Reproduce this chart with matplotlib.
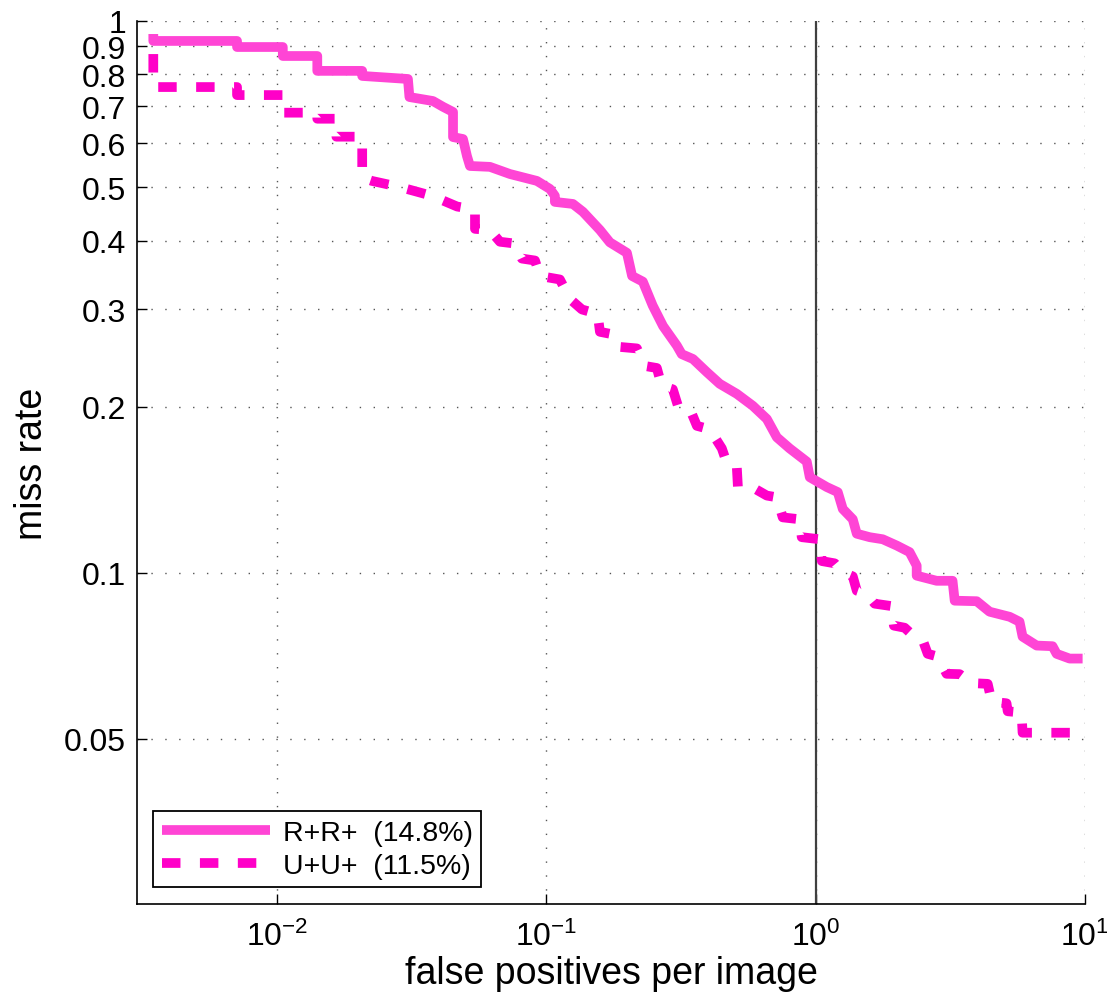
import matplotlib
matplotlib.use("Agg")
import matplotlib.pyplot as plt
from matplotlib.ticker import FixedLocator, FixedFormatter, NullLocator

plt.rcParams['font.family'] = ['Liberation Sans', 'DejaVu Sans']
plt.rcParams['mathtext.fontset'] = 'custom'
plt.rcParams['mathtext.rm'] = 'Liberation Sans'
plt.rcParams['mathtext.it'] = 'Liberation Sans'
plt.rcParams['mathtext.bf'] = 'Liberation Sans'

# ---- data ----
rr_fppi = [0.00347, 0.00347, 0.0071, 0.0071, 0.0105, 0.0105, 0.0141, 0.0141, 0.0207, 0.0207,
           0.0306, 0.0310, 0.0379, 0.0413, 0.0450, 0.0450, 0.0490, 0.0507, 0.0520, 0.0617,
           0.0732, 0.0922, 0.1031, 0.1075, 0.1075, 0.1254, 0.1366, 0.158, 0.172, 0.199,
           0.204, 0.208, 0.228, 0.248, 0.271, 0.305, 0.318, 0.350, 0.394, 0.440,
           0.509, 0.584, 0.658, 0.717, 0.80, 0.926, 0.950, 1.099, 1.207, 1.26,
           1.372, 1.42, 1.586, 1.773, 2.00, 2.23, 2.37, 2.37, 2.81, 3.22,
           3.28, 3.96, 4.42, 5.25, 5.71, 5.86, 6.61, 7.57, 7.84, 8.76, 9.79]
rr_miss = [0.947, 0.920, 0.920, 0.897, 0.897, 0.864, 0.864, 0.812, 0.812, 0.795,
           0.785, 0.728, 0.716, 0.699, 0.684, 0.616, 0.611, 0.569, 0.546, 0.544,
           0.528, 0.513, 0.496, 0.482, 0.470, 0.466, 0.451, 0.418, 0.397, 0.380,
           0.360, 0.345, 0.337, 0.305, 0.280, 0.258, 0.249, 0.244, 0.231, 0.220,
           0.211, 0.2007, 0.190, 0.176, 0.168, 0.159, 0.149, 0.143, 0.140, 0.1305,
           0.125, 0.1177, 0.116, 0.115, 0.112, 0.109, 0.103, 0.0988, 0.0967, 0.0967,
           0.089, 0.0888, 0.085, 0.0832, 0.0815, 0.0766, 0.0738, 0.0736, 0.0713, 0.0699, 0.0699]

uu_fppi = [0.00347, 0.00347, 0.0071, 0.0071, 0.0105, 0.0105, 0.0141, 0.0141, 0.0166, 0.0166,
           0.0207, 0.0207, 0.0225, 0.0286, 0.0376, 0.0466, 0.0543, 0.0543, 0.0617, 0.0672,
           0.0764, 0.0811, 0.0907, 0.0946, 0.1122, 0.1222, 0.1355, 0.155, 0.158, 0.1795,
           0.1874, 0.2167, 0.232, 0.257, 0.268, 0.2946, 0.3078, 0.341, 0.362, 0.404,
           0.448, 0.4677, 0.509, 0.514, 0.594, 0.658, 0.717, 0.754, 0.872, 0.887,
           1.035, 1.053, 1.176, 1.249, 1.372, 1.42, 1.546, 1.655, 1.914, 1.95,
           2.138, 2.37, 2.495, 2.604, 2.836, 3.06, 3.42, 3.79, 4.35, 4.50,
           5.11, 5.16, 5.81, 5.86, 9.54]
uu_miss = [0.871, 0.759, 0.759, 0.734, 0.734, 0.682, 0.682, 0.665, 0.665, 0.617,
           0.617, 0.520, 0.513, 0.500, 0.482, 0.461, 0.455, 0.420, 0.418, 0.398,
           0.395, 0.371, 0.368, 0.345, 0.340, 0.3135, 0.300, 0.2945, 0.2733, 0.270,
           0.2566, 0.255, 0.237, 0.235, 0.218, 0.215, 0.2007, 0.198, 0.1846, 0.182,
           0.168, 0.158, 0.156, 0.143, 0.142, 0.138, 0.137, 0.126, 0.125, 0.116,
           0.115, 0.105, 0.104, 0.1004, 0.0985, 0.0928, 0.0915, 0.0879, 0.087, 0.0802,
           0.0795, 0.0759, 0.0755, 0.0713, 0.0705, 0.0656, 0.0655, 0.0631, 0.0629, 0.0584,
           0.058, 0.0561, 0.0558, 0.0513, 0.0513]

labels = ['R+R+  (14.8%)', 'U+U+  (11.5%)']
xtick_vals = [1e-2, 1e-1, 1e0, 1e1]
xtick_labels = [r'$10^{-2}$', r'$10^{-1}$', r'$10^{0}$', r'$10^{1}$']
ytick_vals = [0.05, 0.1, 0.2, 0.3, 0.4, 0.5, 0.6, 0.7, 0.8, 0.9, 1.0]
ytick_labels = ['0.05', '0.1', '0.2', '0.3', '0.4', '0.5', '0.6', '0.7', '0.8', '0.9', '1']

# ---- figure ----
fig = plt.figure(figsize=(11.07, 10.03), dpi=100)
ax = fig.add_axes([0.1238, 0.0977, 0.8564, 0.8804])
ax.set_xscale('log')
ax.set_yscale('log')
ax.set_xlim(0.00302, 10)
ax.set_ylim(0.0251, 1)

ax.plot(rr_fppi, rr_miss, color='#FF45D5', lw=7.0, solid_joinstyle='round',
        solid_capstyle='butt', label=labels[0], zorder=3)
ax.plot(uu_fppi, uu_miss, color='#FF00C8', lw=7.0, linestyle=(0, (1.9, 2.0)),
        dash_capstyle='butt', dash_joinstyle='round', label=labels[1], zorder=3)

ax.axvline(1.0, color='#404040', lw=1.6, zorder=2)

ax.xaxis.set_major_locator(FixedLocator(xtick_vals))
ax.xaxis.set_major_formatter(FixedFormatter(xtick_labels))
ax.xaxis.set_minor_locator(NullLocator())
ax.yaxis.set_major_locator(FixedLocator(ytick_vals))
ax.yaxis.set_major_formatter(FixedFormatter(ytick_labels))
ax.yaxis.set_minor_locator(NullLocator())

ax.tick_params(axis='both', which='major', direction='in', length=7, width=1,
               labelsize=23, color='black')
ax.tick_params(axis='x', pad=12)
ax.tick_params(axis='y', pad=8)

ax.grid(True, which='major', color='#555555', linestyle=(0, (1, 9)), lw=1.0)

for s in ['top', 'right']:
    ax.spines[s].set_visible(False)
for s in ['left', 'bottom']:
    ax.spines[s].set_linewidth(1.2)

ax.set_xlabel('false positives per image', fontsize=27, labelpad=2)
ax.set_ylabel('miss rate', fontsize=27, labelpad=10)

leg = ax.legend(loc='lower left', bbox_to_anchor=(0.017, 0.019), borderaxespad=0,
                fontsize=20.5, handlelength=3.8, handletextpad=0.45, frameon=True,
                fancybox=False, borderpad=0.3, labelspacing=0.25)
leg.get_frame().set_edgecolor('black')
leg.get_frame().set_linewidth(1.3)
leg.get_frame().set_alpha(1)

fig.savefig('out.png', dpi=100)
